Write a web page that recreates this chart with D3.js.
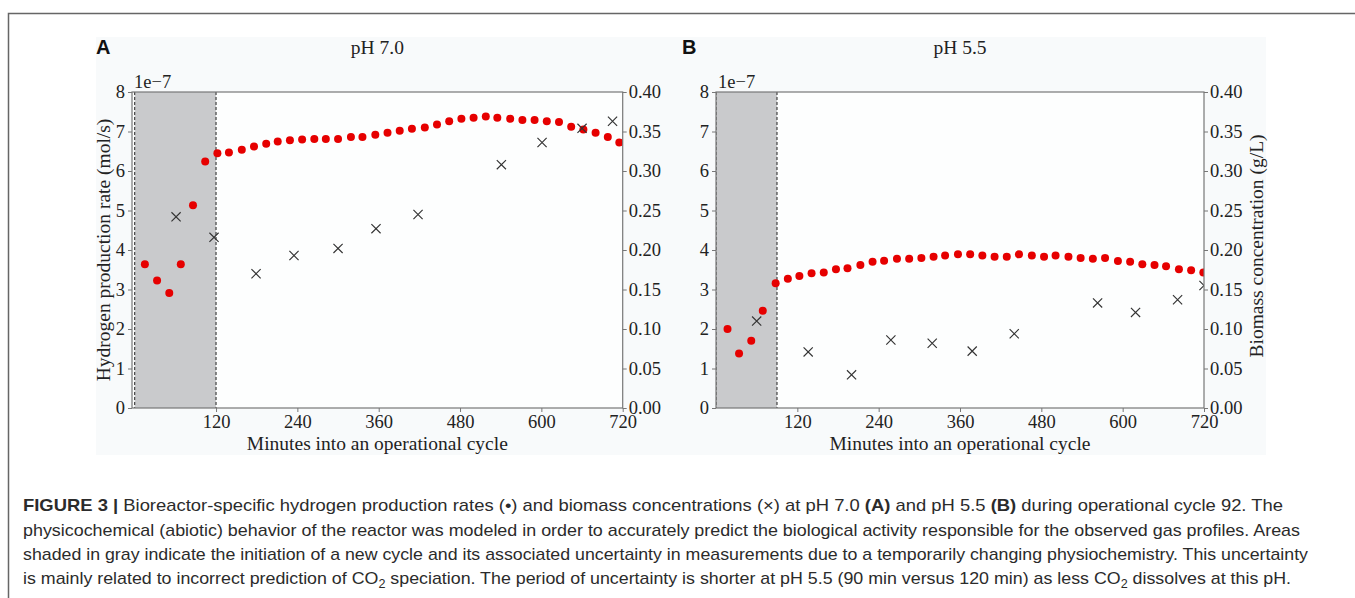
<!DOCTYPE html>
<html><head><meta charset="utf-8">
<script src="https://cdn.jsdelivr.net/npm/d3@7/dist/d3.min.js"></script>
<style>
html,body{margin:0;padding:0;background:#fff;}
svg{display:block;}
</style></head>
<body>
<svg id="fig" width="1355" height="598"></svg>
<script>
// ---------- data ----------
const xTickVals = [120, 240, 360, 480, 600, 720];
const leftTickVals = [0, 1, 2, 3, 4, 5, 6, 7, 8];
const rightTickVals = [0, 0.05, 0.10, 0.15, 0.20, 0.25, 0.30, 0.35, 0.40];

// Panel A (pH 7.0): hydrogen production rate (x1e-7 mol/s)
const h2A_min = [15,33,51,68,86,104,122,139,158,176,194,211,229,247,265,282,300,319,336,355,373,391,409,428,446,464,482,500,518,535,554,572,590,608,626,644,662,680,698,715];
const h2A_val = [3.64,3.23,2.91,3.64,5.13,6.24,6.45,6.47,6.54,6.62,6.69,6.75,6.78,6.80,6.81,6.81,6.81,6.86,6.86,6.92,6.97,7.02,7.07,7.10,7.18,7.26,7.32,7.35,7.38,7.35,7.32,7.29,7.29,7.26,7.24,7.12,7.05,6.97,6.86,6.72];
// Panel A: biomass (g/L)
const bioA_min = [61,117,179,235,300,356,418,541,601,660,705];
const bioA_val = [0.242,0.216,0.170,0.193,0.202,0.227,0.245,0.308,0.336,0.354,0.363];

// Panel B (pH 5.5)
const h2B_min = [17,34,52,69,88,106,123,141,159,177,194,213,231,248,267,285,303,321,338,357,375,393,411,429,447,466,484,501,520,538,556,574,593,611,629,647,664,683,701,719];
const h2B_val = [2.00,1.38,1.70,2.46,3.16,3.27,3.34,3.41,3.43,3.51,3.54,3.62,3.70,3.73,3.78,3.78,3.80,3.83,3.86,3.89,3.89,3.86,3.83,3.83,3.89,3.86,3.83,3.86,3.83,3.80,3.78,3.80,3.72,3.70,3.64,3.62,3.59,3.51,3.49,3.43];
const bioB_min = [60,136,200,258,319,378,440,563,619,681,720];
const bioB_val = [0.110,0.071,0.042,0.086,0.082,0.072,0.094,0.133,0.121,0.137,0.155];

const shadeEndA = 120, shadeEndB = 90;

// ---------- drawing ----------
const svg = d3.select("#fig");
const serif = "'Liberation Serif','Times New Roman',serif";
const capFont = "'Liberation Sans',Arial,Helvetica,sans-serif";

// figure frame
svg.append("rect").attr("x",96).attr("y",37).attr("width",1170).attr("height",418).attr("fill","#f8fafb");
svg.append("path").attr("d","M8.5,598 V13.5 H1355").attr("fill","none").attr("stroke","#666").attr("stroke-width",1.5);

const plotTop = 92, plotBottom = 408;

function panel(opts){
  const {x0, x1, dom, shadeEnd, hMin, hVal, bMin, bVal, title, letter, letterX, leftLabel, rightLabel, id} = opts;
  const x = d3.scaleLinear().domain(dom).range([x0, x1]);
  const y = d3.scaleLinear().domain([0, 8]).range([plotBottom, plotTop]);
  const yr = d3.scaleLinear().domain([0, 0.4]).range([plotBottom, plotTop]);
  const g = svg.append("g");

  g.append("rect").attr("x",x0).attr("y",plotTop).attr("width",x1-x0).attr("height",plotBottom-plotTop).attr("fill","#fdfefe");

  svg.append("clipPath").attr("id","clip"+id).append("rect")
    .attr("x",x0).attr("y",plotTop).attr("width",x1-x0).attr("height",plotBottom-plotTop);
  const pg = g.append("g").attr("clip-path","url(#clip"+id+")");

  // shading
  pg.append("rect").attr("x",x(0)).attr("y",plotTop).attr("width",x(shadeEnd)-x(0)).attr("height",plotBottom-plotTop)
    .attr("fill","#c9cacc");
  [0, shadeEnd].forEach(v=>{
    pg.append("line").attr("x1",x(v)).attr("x2",x(v)).attr("y1",plotTop).attr("y2",plotBottom)
      .attr("stroke","#222").attr("stroke-width",1).attr("stroke-dasharray","3,2");
  });

  // hydrogen dots
  pg.selectAll("circle.h").data(hMin.map((m,i)=>[m,hVal[i]])).enter().append("circle")
    .attr("cx",d=>x(d[0])).attr("cy",d=>y(d[1])).attr("r",4).attr("fill","#e60000");

  // biomass crosses
  const s = 4.6;
  pg.selectAll("path.b").data(bMin.map((m,i)=>[m,bVal[i]])).enter().append("path")
    .attr("d",d=>{const cx=x(d[0]), cy=yr(d[1]);
      return `M${cx-s},${cy-s}L${cx+s},${cy+s}M${cx-s},${cy+s}L${cx+s},${cy-s}`;})
    .attr("stroke","#333").attr("stroke-width",1.15).attr("fill","none");

  // axes
  const axStyle = sel => {
    sel.select(".domain").remove();
    sel.selectAll(".tick line").attr("stroke","#777");
    sel.selectAll(".tick text").attr("font-family",serif).attr("font-size",18.5).attr("fill","#222");
  };
  g.append("g").attr("transform",`translate(0,${plotBottom})`)
    .call(d3.axisBottom(x).tickValues(xTickVals).tickSize(4).tickPadding(3).tickFormat(d3.format("d")))
    .call(axStyle);
  g.append("g").attr("transform",`translate(${x0},0)`)
    .call(d3.axisLeft(y).tickValues(leftTickVals).tickSize(4).tickPadding(3).tickFormat(d3.format("d")))
    .call(axStyle);
  g.append("g").attr("transform",`translate(${x1},0)`)
    .call(d3.axisRight(yr).tickValues(rightTickVals).tickSize(4).tickPadding(2).tickFormat(d3.format(".2f")))
    .call(axStyle);

  // spines
  g.append("rect").attr("x",x0).attr("y",plotTop).attr("width",x1-x0).attr("height",plotBottom-plotTop)
    .attr("fill","none").attr("stroke","#777").attr("stroke-width",1.2);

  // offset text
  g.append("text").attr("x",x0+2).attr("y",plotTop-4).attr("font-family",serif).attr("font-size",18.5)
    .attr("fill","#222").text("1e\u22127");

  // title
  g.append("text").attr("x",(x0+x1)/2).attr("y",54).attr("text-anchor","middle")
    .attr("font-family",serif).attr("font-size",19.5).attr("fill","#222").text(title);
  g.append("text").attr("x",letterX).attr("y",54).attr("font-family","'Liberation Sans',Arial,sans-serif")
    .attr("font-weight","bold").attr("font-size",20).attr("fill","#111").text(letter);

  // x label
  g.append("text").attr("x",(x0+x1)/2).attr("y",450).attr("text-anchor","middle")
    .attr("font-family",serif).attr("font-size",19.5).attr("fill","#222").text("Minutes into an operational cycle");

  if (leftLabel){
    g.append("text").attr("transform",`translate(110,${(plotTop+plotBottom)/2}) rotate(-90)`).attr("text-anchor","middle")
      .attr("font-family",serif).attr("font-size",19.5).attr("fill","#222").text(leftLabel);
  }
  if (rightLabel){
    g.append("text").attr("transform",`translate(1263,${(plotTop+plotBottom)/2 - 4}) rotate(-90)`).attr("text-anchor","middle")
      .attr("font-family",serif).attr("font-size",19.5).attr("fill","#222").text(rightLabel);
  }
}

panel({id:"A", x0:132, x1:622.7, dom:[-4,720], shadeEnd:shadeEndA, hMin:h2A_min, hVal:h2A_val, bMin:bioA_min, bVal:bioA_val,
  title:"pH 7.0", letter:"A", letterX:96, leftLabel:"Hydrogen production rate (mol/s)"});
panel({id:"B", x0:716, x1:1204, dom:[0,720], shadeEnd:shadeEndB, hMin:h2B_min, hVal:h2B_val, bMin:bioB_min, bVal:bioB_val,
  title:"pH 5.5", letter:"B", letterX:682, rightLabel:"Biomass concentration (g/L)"});

// ---------- caption ----------
const capLines = [
  {y:511, w:1260, parts:[["FIGURE 3 | ","b"],["Bioreactor-specific hydrogen production rates (\u2022) and biomass concentrations (\u00d7) at pH 7.0 ",""],["(A)","b"],[" and pH 5.5 ",""],["(B)","b"],[" during operational cycle 92. The",""]]},
  {y:536, w:1277, parts:[["physicochemical (abiotic) behavior of the reactor was modeled in order to accurately predict the biological activity responsible for the observed gas profiles. Areas",""]]},
  {y:560, w:1285, parts:[["shaded in gray indicate the initiation of a new cycle and its associated uncertainty in measurements due to a temporarily changing physiochemistry. This uncertainty",""]]},
  {y:584, w:1268, parts:[["is mainly related to incorrect prediction of CO",""],["2","sub"],[" speciation. The period of uncertainty is shorter at pH 5.5 (90 min versus 120 min) as less CO",""],["2","sub"],[" dissolves at this pH.",""]]}
];
capLines.forEach(l=>{
  const t = svg.append("text").attr("x",23).attr("y",l.y).attr("font-family",capFont).attr("font-size",17)
    .attr("fill","#2b2b2b").attr("textLength",l.w).attr("lengthAdjust","spacingAndGlyphs");
  let prevSub = false;
  l.parts.forEach(p=>{
    const ts = t.append("tspan").text(p[0]);
    if (p[1]==="b") ts.attr("font-weight","bold");
    if (p[1]==="sub") { ts.attr("font-size",12).attr("dy",4); prevSub = true; }
    else if (prevSub) { ts.attr("dy",-4); prevSub = false; }
  });
});
</script>
</body></html>
